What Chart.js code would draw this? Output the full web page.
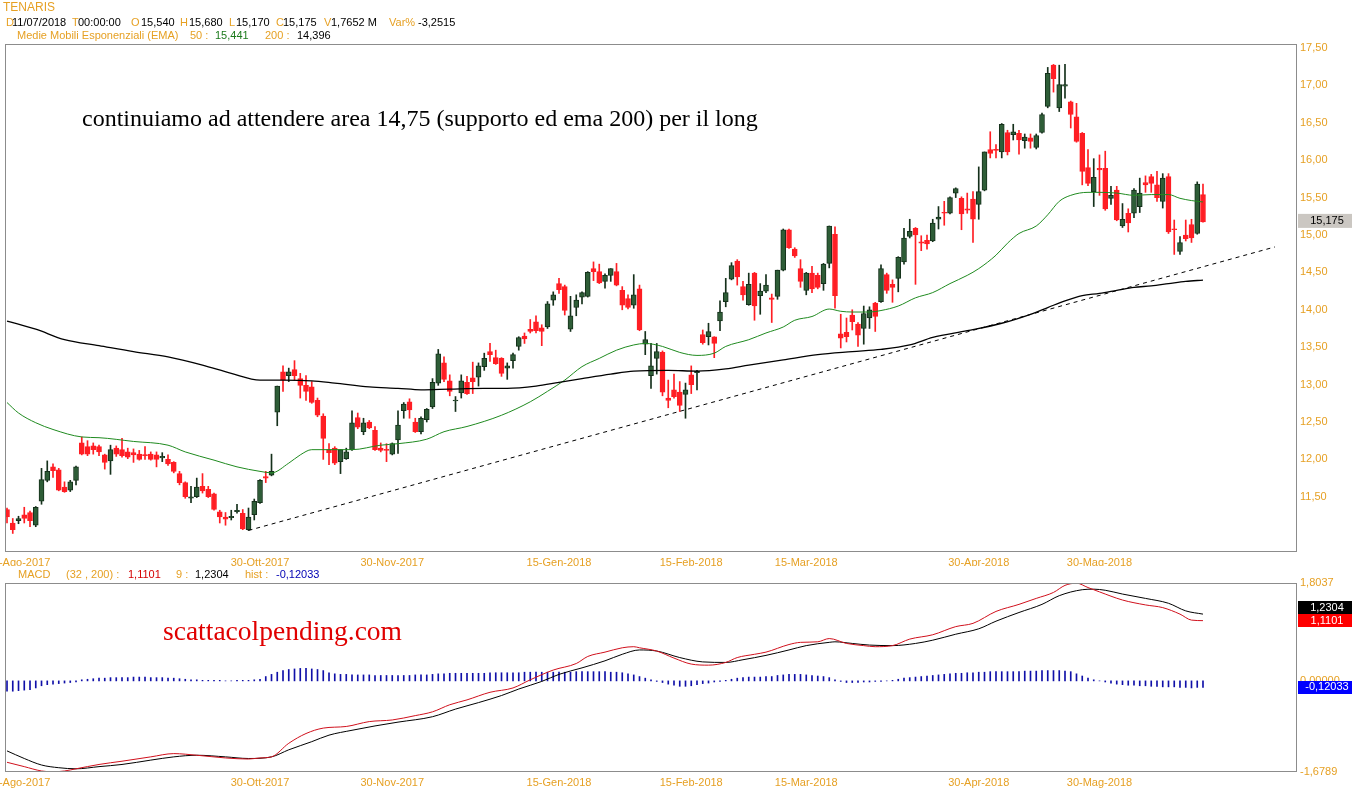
<!DOCTYPE html>
<html>
<head>
<meta charset="utf-8">
<script src="https://cdn.jsdelivr.net/npm/chart.js@4.4.1/dist/chart.umd.min.js"></script>
<style>
html, body { margin: 0; padding: 0; background: #fff; }
#wrap { position: relative; width: 1352px; height: 800px; overflow: hidden; }
#main { position: absolute; left: 0; top: 0; }
#macd { position: absolute; left: 0; top: 566px; }
</style>
</head>
<body>
<div id="wrap">
  <canvas id="main" width="1352" height="566"></canvas>
  <canvas id="macd" width="1352" height="234"></canvas>
</div>
<script>
// --- Data (TENARIS daily, 209 sessions) ---
const open = [11.33,11.15,11.18,11.26,11.29,11.12,11.44,11.72,11.90,11.86,
11.63,11.59,11.72,12.22,12.17,12.18,12.17,12.06,11.98,12.15,
12.13,12.10,12.09,12.07,12.06,12.07,12.06,12.02,12.00,11.96,
11.81,11.69,11.48,11.50,11.64,11.60,11.54,11.30,11.23,11.22,
11.30,11.28,11.06,11.26,11.42,11.77,11.79,12.63,13.17,13.12,
13.20,13.08,12.99,12.97,12.79,12.58,12.13,12.15,11.97,12.01,
12.13,12.56,12.37,12.50,12.39,12.15,12.13,12.07,12.26,12.65,
12.77,12.50,12.37,12.53,12.70,13.02,13.29,13.05,12.78,12.89,
13.03,13.09,13.10,13.24,13.44,13.36,13.35,13.22,13.32,13.51,
13.65,13.74,13.84,13.76,13.77,14.13,14.35,14.31,13.74,14.03,
14.17,14.18,14.55,14.51,14.38,14.46,14.51,14.26,14.15,14.06,
14.28,13.54,13.12,13.35,13.43,12.82,12.93,12.90,12.87,13.13,
13.16,13.67,13.64,13.64,13.85,14.11,14.41,14.65,14.31,14.07,
14.49,14.19,14.25,14.16,14.18,14.53,15.07,14.81,14.55,14.26,
14.49,14.46,14.35,14.62,15.01,13.68,13.70,13.93,13.81,13.75,
13.89,14.09,14.11,14.47,14.34,14.42,14.64,14.98,15.09,14.91,
14.93,14.92,15.21,15.30,15.29,15.56,15.49,15.35,15.48,15.41,
15.60,16.14,16.14,16.11,16.37,16.34,16.36,16.26,16.30,16.17,
16.37,16.72,17.27,16.70,16.99,16.78,16.58,16.36,15.90,15.58,
15.89,15.89,15.49,15.60,15.12,15.29,15.29,15.38,15.70,15.78,
15.67,15.45,15.78,15.08,14.78,15.00,15.14,15.02,15.54];

const high = [11.35,11.21,11.24,11.36,11.31,11.37,11.88,11.98,11.94,11.88,
11.70,11.72,11.91,12.30,12.25,12.22,12.19,12.07,12.19,12.18,
12.28,12.15,12.14,12.12,12.17,12.10,12.10,12.09,12.06,11.97,
11.84,11.70,11.64,11.75,11.81,11.64,11.55,11.32,11.29,11.32,
11.40,11.33,11.35,11.47,11.73,11.84,12.07,12.98,13.25,13.22,
13.32,13.15,13.12,13.04,12.82,12.61,12.21,12.17,12.13,12.15,
12.65,12.62,12.55,12.52,12.44,12.22,12.21,12.22,12.65,12.76,
12.81,12.55,12.57,12.68,13.08,13.47,13.37,13.13,12.84,13.13,
13.11,13.30,13.29,13.42,13.55,13.46,13.36,13.29,13.42,13.64,
13.69,13.87,13.92,13.80,14.11,14.24,14.42,14.33,14.18,14.20,
14.24,14.51,14.64,14.61,14.48,14.55,14.62,14.31,14.20,14.47,
14.33,13.71,13.55,13.55,13.45,13.06,13.14,13.04,13.02,13.25,
13.19,13.73,13.82,13.64,14.12,14.42,14.63,14.67,14.38,14.49,
14.50,14.35,14.47,14.21,14.53,15.08,15.08,14.83,14.67,14.50,
14.58,14.49,14.62,15.12,15.11,13.94,13.89,14.00,13.83,14.05,
14.04,14.10,14.60,14.49,14.40,14.71,15.09,15.21,15.10,14.99,
15.00,15.21,15.38,15.45,15.51,15.63,15.51,15.56,15.58,15.91,
16.11,16.38,16.21,16.49,16.40,16.48,16.40,16.35,16.35,16.35,
16.63,17.24,17.28,17.27,17.28,16.79,16.76,16.37,16.14,16.02,
16.07,16.12,15.65,15.65,15.42,15.35,15.62,15.76,15.79,15.81,
15.85,15.82,15.82,15.20,14.98,15.20,15.21,15.71,15.68];

const low = [11.15,11.01,11.14,11.15,11.10,11.10,11.40,11.70,11.76,11.58,
11.56,11.57,11.66,12.06,12.05,12.07,12.05,11.87,11.80,12.04,
12.03,12.01,11.96,11.99,12.00,11.99,11.90,11.97,11.92,11.82,
11.66,11.48,11.42,11.49,11.55,11.49,11.32,11.15,11.12,11.19,
11.28,11.06,11.05,11.19,11.41,11.69,11.78,12.45,12.91,13.04,
13.06,12.82,12.79,12.75,12.57,12.00,11.93,11.93,11.81,12.00,
12.12,12.41,12.33,12.41,12.12,12.10,11.97,12.06,12.08,12.55,
12.55,12.36,12.34,12.50,12.68,12.99,13.04,12.85,12.64,12.82,
12.87,12.88,12.98,13.19,13.31,13.27,13.11,13.07,13.22,13.46,
13.55,13.69,13.69,13.52,13.75,14.06,14.22,13.93,13.71,13.92,
14.08,14.17,14.39,14.35,14.29,14.38,14.32,14.00,14.01,14.02,
13.72,13.40,12.95,13.14,12.85,12.69,12.82,12.64,12.55,12.88,
12.93,13.54,13.53,13.36,13.72,14.04,14.40,14.33,14.13,14.06,
13.86,13.94,14.23,13.83,14.14,14.52,14.82,14.70,14.30,14.20,
14.23,14.28,14.26,14.56,14.02,13.49,13.57,13.73,13.51,13.54,
13.75,13.71,14.10,14.22,14.10,14.24,14.61,14.96,14.34,14.79,
14.81,14.91,15.08,15.13,15.28,15.50,15.07,15.29,14.90,15.21,
15.59,16.03,16.03,16.03,16.07,16.27,16.08,16.16,16.16,16.15,
16.36,16.70,16.91,16.65,16.83,16.43,16.24,15.67,15.66,15.38,
15.53,15.33,15.41,15.19,15.10,15.04,15.23,15.30,15.57,15.57,
15.45,15.36,15.02,14.74,14.74,14.92,14.90,15.01,15.17];

const close = [11.23,11.06,11.21,11.21,11.18,11.36,11.73,11.84,11.85,11.59,
11.57,11.70,11.90,12.07,12.07,12.13,12.10,11.96,12.13,12.07,
12.05,12.03,12.06,12.00,12.05,12.00,12.00,12.04,11.94,11.84,
11.69,11.50,11.50,11.63,11.58,11.50,11.33,11.23,11.20,11.24,
11.32,11.07,11.23,11.44,11.72,11.75,11.84,12.98,13.06,13.17,
13.12,12.99,12.91,12.76,12.59,12.28,12.09,11.95,12.13,12.10,
12.49,12.43,12.49,12.42,12.13,12.12,12.12,12.21,12.46,12.74,
12.66,12.37,12.55,12.67,13.03,13.41,13.07,12.91,12.79,13.05,
12.88,13.04,13.25,13.35,13.40,13.28,13.15,13.25,13.40,13.63,
13.61,13.71,13.72,13.71,14.08,14.20,14.27,13.99,13.92,14.13,
14.23,14.50,14.51,14.36,14.46,14.55,14.33,14.06,14.03,14.20,
13.73,13.60,13.25,13.44,12.90,12.79,12.84,12.72,12.93,13.00,
13.18,13.56,13.71,13.55,13.97,14.23,14.59,14.44,14.20,14.34,
14.05,14.25,14.33,14.14,14.53,15.07,14.83,14.72,14.38,14.49,
14.28,14.30,14.61,15.12,14.19,13.62,13.64,13.84,13.66,13.95,
14.00,13.91,14.55,14.26,14.30,14.70,14.96,15.05,15.00,14.89,
14.88,15.16,15.24,15.29,15.50,15.62,15.28,15.33,15.21,15.58,
16.11,16.09,16.13,16.48,16.11,16.38,16.27,16.31,16.25,16.33,
16.61,17.16,17.09,17.01,17.01,16.61,16.25,15.85,15.69,15.77,
15.87,15.35,15.53,15.20,15.21,15.16,15.60,15.56,15.67,15.69,
15.50,15.76,15.04,15.07,14.90,14.95,14.96,15.68,15.175];

// moving averages, read at sample sessions
const ema50Idx = [0,2,5,8,13,16,22,28,31,36,40,44,46,49,51,53,60,65,68,73,76,80,86,91,94,97,100,103,106,109,111,114,117,120,123,125,129,132,135,137,140,143,145,147,150,152,155,158,161,164,167,169,172,174,176,179,181,183,185,188,190,193,196,199,202,204,206,208];
const ema50Val = [12.76,12.62,12.49,12.40,12.30,12.29,12.24,12.19,12.10,11.99,11.90,11.84,11.82,11.95,12.06,12.13,12.13,12.19,12.21,12.27,12.37,12.44,12.59,12.77,12.91,13.06,13.24,13.35,13.46,13.53,13.55,13.51,13.43,13.39,13.42,13.51,13.60,13.69,13.77,13.86,13.91,14.01,13.98,13.97,13.97,13.99,14.05,14.16,14.23,14.35,14.46,14.55,14.73,14.89,15.02,15.12,15.27,15.45,15.53,15.57,15.57,15.56,15.53,15.54,15.54,15.49,15.46,15.441];
const ema200Idx = [0,5,10,16,22,28,34,39,44,48,53,57,63,68,72,77,83,87,92,96,100,105,109,115,120,125,129,135,141,147,152,157,161,167,173,178,181,184,187,190,193,196,199,202,205,208];
const ema200Val = [13.85,13.74,13.60,13.52,13.44,13.37,13.26,13.15,13.06,13.06,13.05,13.02,12.97,12.95,12.93,12.94,12.95,12.95,12.98,13.03,13.08,13.14,13.18,13.19,13.18,13.21,13.26,13.33,13.40,13.44,13.47,13.53,13.63,13.72,13.82,13.94,14.03,14.12,14.19,14.22,14.26,14.30,14.32,14.35,14.38,14.396];

// hand-drawn support line
const trendIdx = [42, 220.5];
const trendVal = [11.05, 14.84];

// MACD (32,200) and signal (9)
const macdIdx = [0,3,6,8,10,12,16,20,25,29,33,38,42,44,46,49,52,55,59,63,67,71,74,77,80,84,88,91,95,99,101,104,107,109,110,113,116,119,122,125,127,130,132,136,138,141,143,146,149,151,154,157,161,165,168,172,176,179,182,184,186,188,190,194,198,201,204,206,208];
const macdVal = [-1.50,-1.58,-1.66,-1.675,-1.66,-1.62,-1.54,-1.48,-1.40,-1.34,-1.37,-1.42,-1.44,-1.42,-1.40,-1.15,-0.97,-0.87,-0.84,-0.75,-0.72,-0.64,-0.57,-0.44,-0.35,-0.21,-0.13,0.02,0.20,0.32,0.45,0.53,0.61,0.63,0.61,0.55,0.42,0.31,0.29,0.34,0.43,0.49,0.53,0.67,0.71,0.72,0.78,0.69,0.65,0.63,0.65,0.77,0.85,1.00,1.06,1.28,1.41,1.52,1.63,1.76,1.80,1.72,1.64,1.49,1.40,1.35,1.23,1.12,1.1101];
const signalIdx = [0,3,6,9,12,16,20,25,29,33,38,42,46,49,53,56,60,64,68,74,78,82,86,89,93,96,100,104,107,110,113,117,121,125,128,132,136,139,143,144,147,150,154,158,161,165,169,172,176,180,183,187,189,191,194,198,202,205,208];
const signalVal = [-1.29,-1.43,-1.55,-1.60,-1.62,-1.58,-1.54,-1.46,-1.40,-1.37,-1.40,-1.43,-1.40,-1.27,-1.12,-1.00,-0.91,-0.83,-0.76,-0.66,-0.52,-0.40,-0.27,-0.15,-0.01,0.12,0.24,0.37,0.49,0.57,0.55,0.43,0.35,0.34,0.39,0.47,0.57,0.65,0.71,0.72,0.69,0.66,0.65,0.69,0.75,0.86,0.96,1.10,1.26,1.41,1.57,1.68,1.69,1.67,1.60,1.52,1.43,1.29,1.2304];
const hist = [-0.19,-0.19,-0.18,-0.17,-0.16,-0.13,
-0.09,-0.07,-0.06,-0.05,-0.04,-0.03,-0.02,
0.02,0.03,0.04,0.05,0.05,0.06,0.06,0.06,0.06,0.07,0.07,0.07,0.06,0.06,0.06,0.05,0.05,
0.04,0.03,0.02,0.02,0.01,0.01,0.01,0.01,0.00,0.00,0.01,0.01,0.01,0.02,0.03,
0.08,0.12,0.16,0.19,0.21,0.22,0.23,0.23,0.22,0.21,0.19,
0.15,0.13,0.12,0.12,0.11,0.11,0.11,0.11,0.10,0.10,0.10,0.10,0.10,0.10,0.10,0.11,0.11,0.11,0.12,
0.13,0.13,0.14,0.14,0.14,0.14,0.14,0.14,0.14,0.15,0.15,0.15,0.15,0.15,0.15,
0.16,0.16,0.16,0.16,0.16,0.16,0.16,0.16,0.16,0.17,0.17,0.17,0.17,0.17,0.17,0.16,0.16,0.15,
0.13,0.11,0.08,0.05,0.02,
-0.01,-0.03,-0.06,-0.08,-0.10,-0.10,-0.09,
-0.07,-0.05,-0.04,-0.02,-0.01,
0.01,0.03,0.05,0.06,0.07,0.07,0.07,0.08,0.08,
0.10,0.11,0.12,0.12,0.12,0.11,
0.10,0.09,0.08,0.06,
0.02,-0.01,-0.03,-0.03,-0.03,-0.02,-0.02,-0.01,-0.01,0.00,0.01,
0.03,0.05,0.06,0.07,0.08,0.09,0.10,0.11,0.12,0.13,
0.14,0.14,0.15,0.15,
0.16,0.16,0.17,0.17,0.17,0.17,0.17,0.17,0.18,0.18,0.18,
0.19,0.19,0.19,0.19,0.18,0.17,
0.13,0.09,0.05,0.02,0.00,-0.02,
-0.04,-0.06,-0.07,-0.08,-0.08,-0.09,-0.09,-0.10,-0.10,-0.11,-0.11,-0.11,-0.12,-0.12,-0.13,-0.12,-0.12033];

// axes
const dateTickIdx = [2, 44, 67, 96, 119, 139, 169, 190];
const dateTickText = ['30-Ago-2017','30-Ott-2017','30-Nov-2017','15-Gen-2018','15-Feb-2018','15-Mar-2018','30-Apr-2018','30-Mag-2018'];
const priceTicks = [11.5,12,12.5,13,13.5,14,14.5,15,15.5,16,16.5,17,17.5];
const macdTicks = [-1.6789, 0, 1.8037];

// --- Styles ---
const ORANGE = '#e6a023';
const UP = '#2e5d37';
const UP_EDGE = '#15301b';
const DOWN = '#ff1e24';
const FONT = '"Liberation Sans", Arial, sans-serif';
const SERIF = '"Liberation Serif", "Times New Roman", serif';
const X_MIN = -0.35, X_MAX = 224.35;

const pts = (xs, ys) => xs.map((x, i) => ({ x: x, y: ys[i] }));
const fmt = (v, d) => v.toFixed(d).replace('.', ',');
const isUp = i => close[i] >= open[i];

function label(ctx, s, x, y, color, size, align, font) {
    ctx.font = size + 'px ' + (font || FONT);
    ctx.fillStyle = color;
    ctx.textAlign = align || 'left';
    ctx.textBaseline = 'middle';
    ctx.fillText(s, x, y);
}

function fitText(ctx, s, x, y, width, color, font) {
    ctx.font = '20px ' + font;
    const size = 20 * width / ctx.measureText(s).width;
    ctx.font = size.toFixed(2) + 'px ' + font;
    ctx.fillStyle = color;
    ctx.textAlign = 'left';
    ctx.textBaseline = 'alphabetic';
    ctx.fillText(s, x, y);
}

function frame(ctx, a) {
    ctx.strokeStyle = '#8c8c8c';
    ctx.lineWidth = 1;
    ctx.strokeRect(a.left + 0.5, a.top + 0.5, a.right - a.left - 1, a.bottom - a.top - 1);
}

function dateLabels(ctx, x, y) {
    dateTickIdx.forEach((idx, k) => label(ctx, dateTickText[k], x.getPixelForValue(idx), y, ORANGE, 11, 'center'));
}

function xAxis() {
    return { type: 'linear', min: X_MIN, max: X_MAX, offset: false, display: false };
}

// --- Main price panel ---
const mainDeco = {
    id: 'mainDeco',
    afterDraw(chart) {
        const { ctx, chartArea, scales } = chart;
        ctx.save();
        frame(ctx, chartArea);

        label(ctx, 'TENARIS', 3, 8, ORANGE, 12);
        [['D', 6, ORANGE], ['11/07/2018', 12, '#000'], ['T', 72, ORANGE], ['00:00:00', 78, '#000'],
         ['O', 131, ORANGE], ['15,540', 141, '#000'], ['H', 180, ORANGE], ['15,680', 189, '#000'],
         ['L', 229, ORANGE], ['15,170', 236, '#000'], ['C', 276, ORANGE], ['15,175', 283, '#000'],
         ['V', 324, ORANGE], ['1,7652 M', 331, '#000'], ['Var%', 389, ORANGE], ['-3,2515', 418, '#000']]
            .forEach(p => label(ctx, p[0], p[1], 23, p[2], 11));
        [['Medie Mobili Esponenziali (EMA)', 17, ORANGE], ['50 :', 190, ORANGE], ['15,441', 215, '#1c7a1c'],
         ['200 :', 265, ORANGE], ['14,396', 297, '#000']]
            .forEach(p => label(ctx, p[0], p[1], 36, p[2], 11));

        fitText(ctx, 'continuiamo ad attendere area 14,75 (supporto ed ema 200) per il long', 82, 126, 676, '#000', SERIF);

        dateLabels(ctx, scales.x, 563);

        const last = close[close.length - 1];
        const py = scales.y.getPixelForValue(last);
        ctx.fillStyle = '#cbc7c2';
        ctx.fillRect(1298, py - 8, 54, 14);
        label(ctx, fmt(last, 3), 1327, py - 1, '#000', 11, 'center');
        ctx.restore();
    }
};

new Chart(document.getElementById('main'), {
    type: 'bar',
    data: {
        datasets: [
            {
                type: 'line', data: pts(trendIdx, trendVal),
                borderColor: '#000', borderWidth: 1, borderDash: [4, 4], pointRadius: 0, order: -2
            },
            {
                type: 'line', data: pts(ema200Idx, ema200Val),
                borderColor: '#000', borderWidth: 1.3, pointRadius: 0, cubicInterpolationMode: 'monotone', order: -1
            },
            {
                type: 'line', data: pts(ema50Idx, ema50Val),
                borderColor: '#1f8a1f', borderWidth: 1, pointRadius: 0, cubicInterpolationMode: 'monotone', order: -1
            },
            {
                data: open.map((o, i) => ({ x: i, y: [o, close[i]] })),
                backgroundColor: c => isUp(c.dataIndex) ? UP : DOWN,
                borderColor: c => isUp(c.dataIndex) ? UP_EDGE : DOWN,
                borderWidth: 1, borderSkipped: false, minBarLength: 1,
                barThickness: 5, grouped: false, order: 1
            },
            {
                data: low.map((l, i) => ({ x: i, y: [l, high[i]] })),
                backgroundColor: c => isUp(c.dataIndex) ? UP_EDGE : DOWN,
                barThickness: 1, grouped: false, order: 2
            }
        ]
    },
    options: {
        responsive: false,
        animation: false,
        events: [],
        layout: { padding: { left: 5, top: 44, bottom: 14, right: 0 } },
        plugins: { legend: { display: false }, tooltip: { enabled: false } },
        scales: {
            x: xAxis(),
            y: {
                position: 'right', min: 10.762, max: 17.553,
                grid: { display: false, drawTicks: false }, border: { display: false },
                afterBuildTicks: s => { s.ticks = priceTicks.map(v => ({ value: v })); },
                afterFit: s => { s.width = 55; },
                ticks: { autoSkip: false, padding: 3, color: ORANGE, font: { size: 11, family: FONT }, callback: v => fmt(v, 2) }
            }
        }
    },
    plugins: [mainDeco]
});

// --- MACD panel ---
const macdDeco = {
    id: 'macdDeco',
    afterDraw(chart) {
        const { ctx, chartArea, scales } = chart;
        ctx.save();
        frame(ctx, chartArea);

        [['MACD', 18, ORANGE], ['(32 , 200) :', 66, ORANGE], ['1,1101', 128, '#d40000'], ['9 :', 176, ORANGE],
         ['1,2304', 195, '#000'], ['hist :', 245, ORANGE], ['-0,12033', 276, '#0000b4']]
            .forEach(p => label(ctx, p[0], p[1], 9, p[2], 11));

        fitText(ctx, 'scattacolpending.com', 163, 74, 239, '#e00000', SERIF);

        dateLabels(ctx, scales.x, 217);

        const yRed = scales.y.getPixelForValue(macdVal[macdVal.length - 1]);
        let yBlack = scales.y.getPixelForValue(signalVal[signalVal.length - 1]);
        if (yRed - yBlack < 13) yBlack = yRed - 13;
        const yBlue = scales.y.getPixelForValue(hist[hist.length - 1]);
        [[yBlack, '#000', '1,2304'], [yRed, '#ff0000', '1,1101'], [yBlue, '#0000ff', '-0,12033']].forEach(b => {
            ctx.fillStyle = b[1];
            ctx.fillRect(1298, Math.round(b[0] - 6.5), 54, 13);
            label(ctx, b[2], 1327, b[0], '#fff', 11, 'center');
        });
        ctx.restore();
    }
};

new Chart(document.getElementById('macd'), {
    type: 'bar',
    data: {
        datasets: [
            {
                type: 'line', data: pts(signalIdx, signalVal),
                borderColor: '#000', borderWidth: 1, pointRadius: 0, cubicInterpolationMode: 'monotone', order: -1
            },
            {
                type: 'line', data: pts(macdIdx, macdVal),
                borderColor: '#d0101c', borderWidth: 1, pointRadius: 0, cubicInterpolationMode: 'monotone', order: -2
            },
            {
                data: hist.map((h, i) => ({ x: i, y: h })),
                backgroundColor: '#1010a8', barThickness: 1, grouped: false, order: 1
            }
        ]
    },
    options: {
        responsive: false,
        animation: false,
        events: [],
        layout: { padding: { left: 5, top: 17, bottom: 28, right: 0 } },
        plugins: { legend: { display: false }, tooltip: { enabled: false } },
        scales: {
            x: xAxis(),
            y: {
                position: 'right', min: -1.6789, max: 1.8037,
                grid: { display: false, drawTicks: false }, border: { display: false },
                afterBuildTicks: s => { s.ticks = macdTicks.map(v => ({ value: v })); },
                afterFit: s => { s.width = 55; },
                ticks: {
                    autoSkip: false, padding: 3, color: ORANGE, font: { size: 11, family: FONT },
                    callback: v => v === 0 ? '0,00000' : fmt(v, 4)
                }
            }
        }
    },
    plugins: [macdDeco]
});
</script>
</body>
</html>
